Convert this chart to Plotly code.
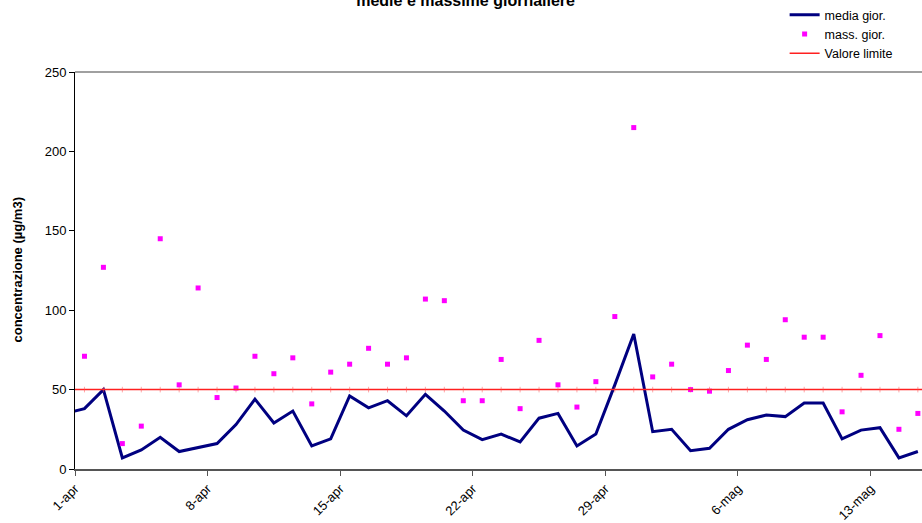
import pandas as pd
import plotly.graph_objects as go

# Data
dates = pd.date_range("2008-03-31", periods=46, freq="D")
media_gior = [35, 38, 50, 7, 12, 20, 11, 13.5, 16, 28, 44, 29, 36.5, 14.5, 19, 46,
              38.5, 43, 33.5, 47, 36.5, 24.5, 18.5, 22, 17, 32, 35, 14.5, 22, 53, 85,
              23.5, 25, 11.5, 13, 25, 31, 34, 33, 41.5, 41.5, 19, 24.5, 26, 7, 11]
mass_gior = [None, 71, 127, 16, 27, 145, 53, 114, 45, 51, 71, 60, 70, 41, 61, 66, 76,
             66, 70, 107, 106, 43, 43, 69, 38, 81, 53, 39, 55, 96, 215, 58, 66, 50,
             49, 62, 78, 69, 94, 83, 83, 36, 59, 84, 25, 35]
limit_dates = pd.date_range("2008-03-31", periods=47, freq="D")
valore_limite = [50] * len(limit_dates)

tick_dates = pd.date_range("2008-04-01", periods=7, freq="7D")
tick_labels = ["1-apr", "8-apr", "15-apr", "22-apr", "29-apr", "6-mag", "13-mag"]

FONT = "Arial, Liberation Sans, sans-serif"
DAY_MS = 86400000

fig = go.Figure()
fig.add_trace(go.Scatter(
    x=dates, y=media_gior, name="media gior.", mode="lines",
    line=dict(color="#000080", width=3),
    xperiod=DAY_MS, xperiodalignment="middle"))
fig.add_trace(go.Scatter(
    x=dates, y=mass_gior, name="mass. gior.", mode="markers",
    marker=dict(symbol="square", size=5, color="#FF00FF"),
    xperiod=DAY_MS, xperiodalignment="middle"))
fig.add_trace(go.Scatter(
    x=limit_dates, y=valore_limite, name="Valore limite", mode="lines",
    line=dict(color="#FF2020", width=1.5),
    xperiod=DAY_MS, xperiodalignment="middle"))
fig.add_trace(go.Scatter(
    x=limit_dates, y=valore_limite, mode="markers", showlegend=False,
    hoverinfo="skip",
    marker=dict(symbol="line-ns", size=4, line=dict(color="rgba(255,80,80,0.5)", width=1)),
    xperiod=DAY_MS, xperiodalignment="middle"))

fig.update_layout(
    width=922, height=523,
    margin=dict(l=75, r=0, t=72, b=54, autoexpand=False),
    paper_bgcolor="white", plot_bgcolor="white",
    font=dict(family=FONT, size=13, color="black"),
    title=dict(text="<b>medie e massime giornaliere</b>",
               font=dict(family=FONT, size=16, color="black"),
               x=0.505, xanchor="center", xref="container",
               y=1.0, yanchor="middle", yref="container"),
    showlegend=True,
    legend=dict(xref="container", yref="container", x=0.851, y=1.0,
                xanchor="left", yanchor="top",
                font=dict(family=FONT, size=12.5, color="black"),
                bgcolor="rgba(0,0,0,0)", tracegroupgap=0),
    xaxis=dict(
        type="date",
        range=["2008-04-01", "2008-05-15 17:15"],
        tickvals=tick_dates, ticktext=tick_labels, tickangle=-45,
        ticks="outside", ticklen=5, tickcolor="#555555",
        showline=True, linecolor="#555555", linewidth=2,
        showgrid=False, zeroline=False,
        tickfont=dict(family=FONT, size=13, color="black"),
    ),
    yaxis=dict(
        range=[0, 250], tickvals=[0, 50, 100, 150, 200, 250],
        ticks="outside", ticklen=5, tickcolor="black",
        showline=True, linecolor="black", linewidth=1,
        showgrid=False, zeroline=False,
        tickfont=dict(family=FONT, size=13, color="black"),
    ),
    shapes=[dict(type="line", xref="paper", yref="paper", x0=0, x1=1, y0=1, y1=1,
                 line=dict(color="#A0A0A0", width=2))],
    annotations=[dict(text="<b>concentrazione (µg/m3)</b>", textangle=-90,
                      xref="paper", yref="paper", x=-58 / 847, y=0.5,
                      xanchor="center", yanchor="middle", showarrow=False,
                      font=dict(family=FONT, size=13, color="black"))],
)

fig.write_html("out.html", config={"displayModeBar": False},
               post_script="document.body.style.margin='0px';document.body.style.padding='0px';")
